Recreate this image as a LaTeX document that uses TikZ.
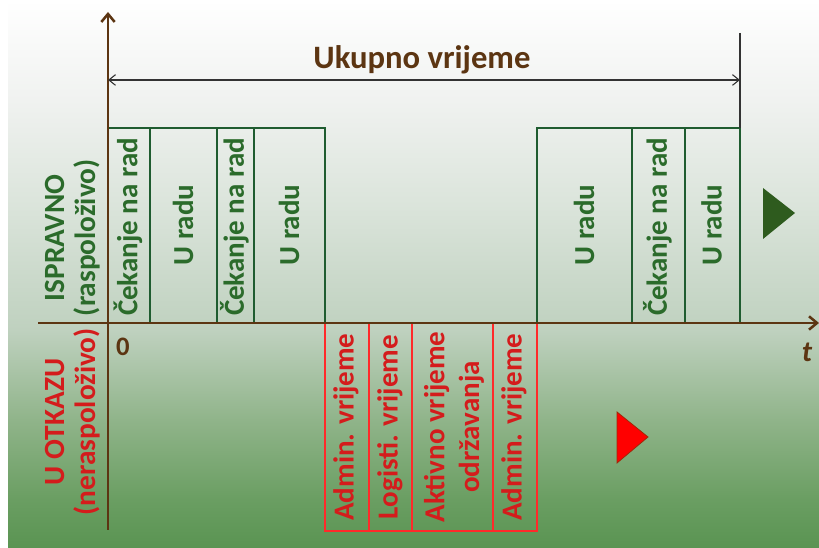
\documentclass[tikz,border=0pt]{standalone}
\usepackage{fontspec}
\setmainfont{Carlito}
\usetikzlibrary{arrows.meta}
\definecolor{brn}{HTML}{5C3512}
\definecolor{gline}{HTML}{1F5C30}
\definecolor{gtext}{HTML}{2B6B2B}
\definecolor{rline}{HTML}{FF2A2A}
\definecolor{rtext}{HTML}{D41C1C}
\definecolor{gtri}{HTML}{2E5B1E}
\definecolor{rtriline}{HTML}{A02808}
\definecolor{dimc}{HTML}{333333}
\definecolor{bga}{HTML}{5A9452}
\definecolor{bgb}{HTML}{6A9E62}
\definecolor{bgc}{HTML}{90B48A}
\definecolor{bgd}{HTML}{BFD1BF}
\definecolor{bge}{HTML}{DCE5DC}
\definecolor{bgf}{HTML}{F0F2F0}
\pgfdeclareverticalshading{bgshade}{100bp}{color(0bp)=(bga); color(25bp)=(bga); color(29.4bp)=(bgb); color(36.7bp)=(bgc); color(44.9bp)=(bgd); color(56.8bp)=(bge); color(65.9bp)=(bgf); color(75bp)=(white); color(100bp)=(white)}
\tikzset{
  axisline/.style={draw=brn, line width=1.9pt},
  gboxline/.style={draw=gline, line width=1.5pt},
  rboxline/.style={draw=rline, line width=1.5pt},
  gtxt/.style={text=gtext, rotate=90, inner sep=0pt, align=center, font=\fontsize{21.75}{26}\selectfont\bfseries},
  rtxt/.style={text=rtext, rotate=90, inner sep=0pt, align=center, font=\fontsize{21.75}{26}\selectfont\bfseries},
  sidelab/.style={rotate=90, inner sep=0pt, align=center, font=\fontsize{22}{23.25}\selectfont\bfseries},
  dimline/.style={draw=dimc, line width=0.8pt},
}
\begin{document}
\begin{tikzpicture}[x=0.75pt,y=-0.75pt]
\useasboundingbox (0,0) rectangle (819,548);
\fill[white] (0,0) rectangle (819,548);
\shade[shading=bgshade] (8,0) rectangle (819,548);
% green boxes
\foreach \a/\b in {108/150,150/217,217/254,254/325,537/632,632/685,685/740}
  \draw[gboxline] (\a,128) rectangle (\b,323);
% red boxes
\foreach \a/\b in {325/369,369/412,412/493,493/537}
  \draw[rboxline] (\a,323) rectangle (\b,531);
% axes
\coordinate (yb) at (108,530);
\coordinate (yt) at (108,12);
\coordinate (xl) at (38,323);
\coordinate (xr) at (819,323);
\draw[axisline, -{Straight Barb[length=6pt,width=10pt]}] (yb) -- (yt);
\draw[axisline, -{Straight Barb[length=6pt,width=10pt]}] (xl) -- (xr);
% total time dimension
\coordinate (dl) at (108,80);
\coordinate (dr) at (740,80);
\coordinate (et) at (740,33);
\coordinate (eb) at (740,128);
\draw[dimline] (et) -- (eb);
\draw[dimline, {Straight Barb[length=5pt,width=8pt]}-{Straight Barb[length=5pt,width=8pt]}] (dl) -- (dr);
\node[text=brn, inner sep=0pt, font=\fontsize{24.5}{28}\selectfont\bfseries] (uk) at (422,60) {Ukupno vrijeme};
% texts in green boxes
\node[gtxt] (g1) at (128,227) {Čekanje na rad};
\node[gtxt] (g2) at (183,225) {U radu};
\node[gtxt] (g3) at (234.5,227) {Čekanje na rad};
\node[gtxt] (g4) at (289,225) {U radu};
\node[gtxt] (g5) at (584,225) {U radu};
\node[gtxt] (g6) at (657.5,227) {Čekanje na rad};
\node[gtxt] (g7) at (711.5,225) {U radu};
% texts in red boxes
\node[rtxt] (r1) at (346,427) {Admin. vrijeme};
\node[rtxt] (r2) at (390,427) {Logisti. vrijeme};
\node[rtxt] (r3) at (454,427) {Aktivno vrijeme\\održavanja};
\node[rtxt] (r4) at (514,427) {Admin. vrijeme};
% side labels
\node[sidelab, text=gtext] (isp) at (73,238) {ISPRAVNO\\(raspoloživo)};
\node[sidelab, text=rtext] (otk) at (73,422) {U OTKAZU\\(neraspoloživo)};
% axis labels
\node[text=brn, inner sep=0pt, font=\fontsize{20}{24}\selectfont\bfseries] (zero) at (123,347) {0};
\node[text=brn, inner sep=0pt, font=\fontsize{22}{26}\selectfont\bfseries\itshape] (tt) at (807,352) {t};
% triangles
\coordinate (ga) at (763,188);
\coordinate (gb) at (795,213);
\coordinate (gc) at (763,239);
\fill[gtri] (ga) -- (gb) -- (gc) -- cycle;
\coordinate (ra) at (617,412);
\coordinate (rb) at (648,437);
\coordinate (rc) at (617,463);
\filldraw[fill=red, draw=rtriline, line width=0.6pt] (ra) -- (rb) -- (rc) -- cycle;
\end{tikzpicture}
\end{document}
